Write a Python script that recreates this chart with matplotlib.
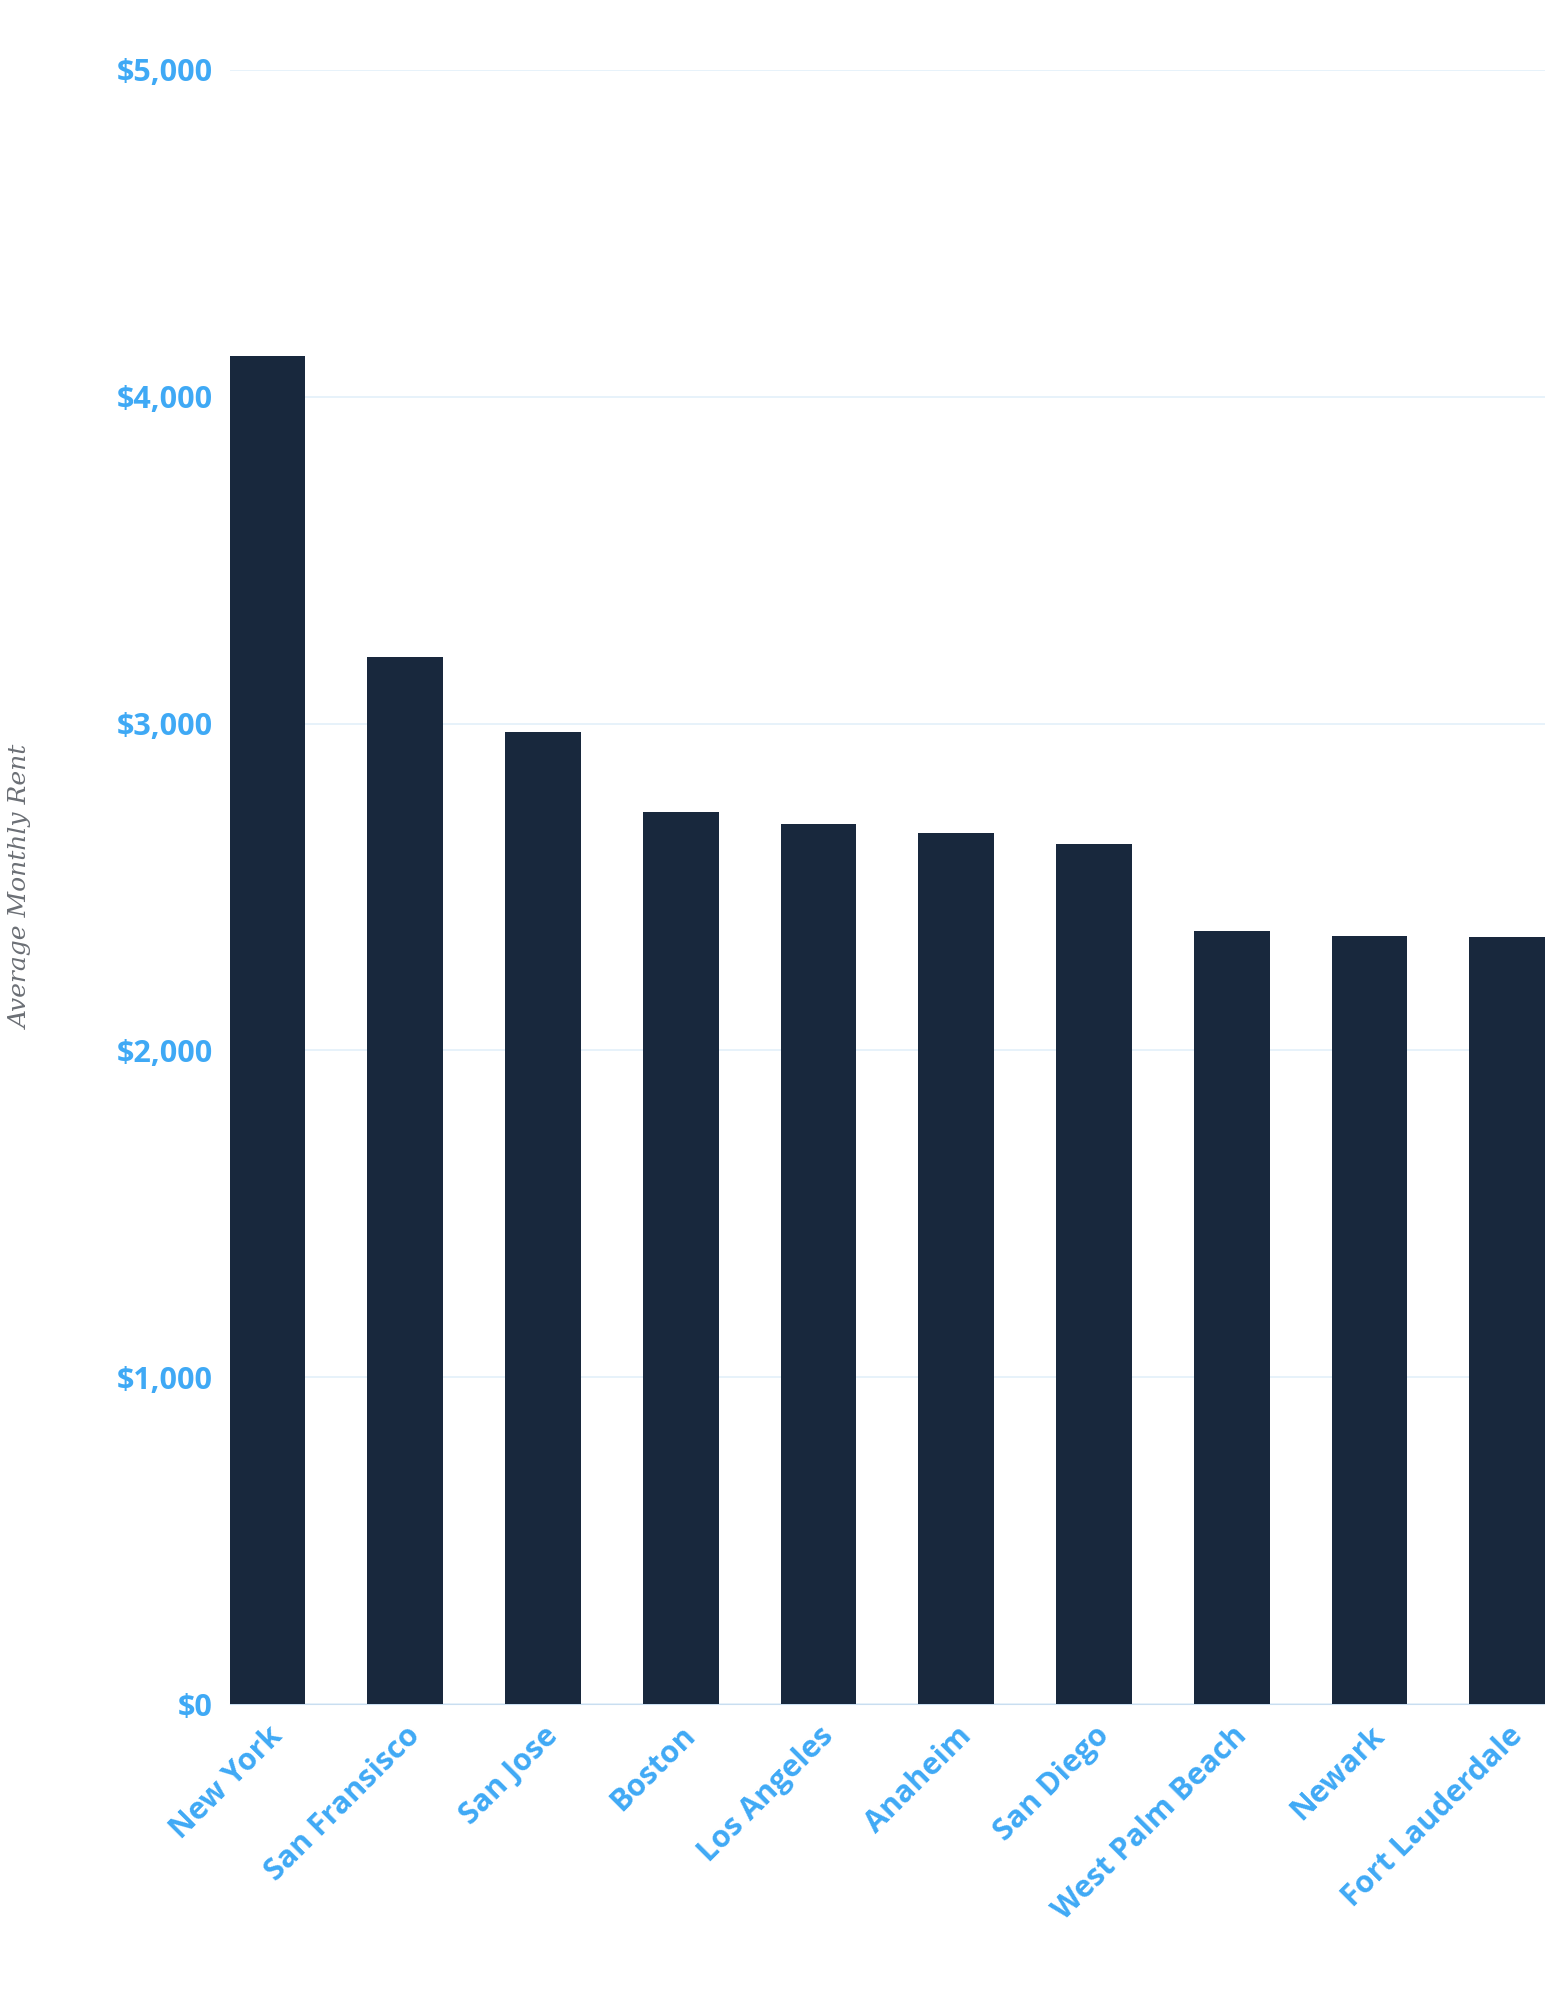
import matplotlib
matplotlib.use("Agg")
import matplotlib.pyplot as plt

cities = ["New York", "San Fransisco", "San Jose", "Boston", "Los Angeles",
          "Anaheim", "San Diego", "West Palm Beach", "Newark", "Fort Lauderdale"]
rents = [4125, 3205, 2975, 2728, 2693, 2666, 2631, 2365, 2350, 2346]
yticks = [0, 1000, 2000, 3000, 4000, 5000]
ytick_labels = ["$0", "$1,000", "$2,000", "$3,000", "$4,000", "$5,000"]

blue = "#3fa9f5"
fig = plt.figure(figsize=(15.45, 20), dpi=100)
ax = fig.add_axes([0.1486, 0.148, 0.8514, 0.817])
ax.bar(range(len(cities)), rents, width=0.55, color="#18283d", zorder=3)
ax.set_xlim(-0.275, 9.275)
ax.set_ylim(0, 5000)
ax.set_yticks(yticks)
ax.set_yticklabels(ytick_labels, fontfamily="Open Sans", fontweight="bold",
                   fontsize=22, color=blue)
ax.set_xticks(range(len(cities)))
ax.set_xticklabels(cities, rotation=45, ha="right", va="top", rotation_mode="anchor",
                   fontfamily="Open Sans", fontweight="bold", fontsize=22, color=blue)
ax.tick_params(length=0, pad=12)
ax.grid(axis="y", color="#e3f0fa", linewidth=1.2, zorder=0)
for s in ["top", "right", "left"]:
    ax.spines[s].set_visible(False)
ax.spines["bottom"].set_color("#c9def0")
ax.set_ylabel("Average Monthly Rent", fontfamily="DejaVu Serif", fontstyle="italic",
              fontsize=18, color="#6b6f75", labelpad=60)
fig.savefig("out.png", dpi=100)
